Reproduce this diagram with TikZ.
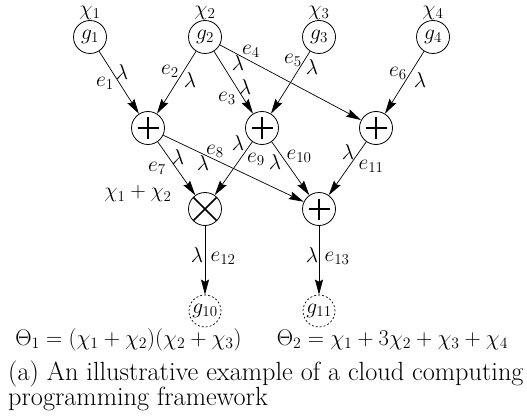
\RequirePackage{fix-cm}
\documentclass[tikz,border=0pt]{standalone}
\usetikzlibrary{arrows.meta}
\begin{document}
\begin{tikzpicture}[x=1pt,y=-1pt,
  font=\fontsize{21.5}{25}\selectfont,
  gate/.style={circle, draw, line width=0.8pt, minimum size=33pt, inner sep=0pt},
  sink/.style={circle, draw, line width=0.7pt, dash pattern=on 2pt off 2pt,
    minimum size=32pt, inner sep=0pt},
  addop/.style={gate, path picture={
    \draw[line width=1.7pt]
      ([xshift=-10.5pt]path picture bounding box.center) --
      ([xshift=10.5pt]path picture bounding box.center)
      ([yshift=-10.5pt]path picture bounding box.center) --
      ([yshift=10.5pt]path picture bounding box.center);}},
  mulop/.style={gate, path picture={
    \draw[line width=1.7pt]
      (path picture bounding box.south west) -- (path picture bounding box.north east)
      (path picture bounding box.north west) -- (path picture bounding box.south east);}},
  conn/.style={-{Stealth[length=15pt,width=8pt,inset=2pt]}, line width=0.7pt},
  lab/.style={inner sep=0pt},
  result/.style={inner sep=0pt, anchor=base, font=\fontsize{22.6}{26}\selectfont},
  captext/.style={font=\fontsize{26.3}{30}\selectfont, inner sep=0pt, anchor=base west}]
\useasboundingbox (0,0) rectangle (527,417);

% inputs
\node[gate] (g1) at (90,37) {$g_1$};
\node[gate] (g2) at (205,37) {$g_2$};
\node[gate] (g3) at (319,37) {$g_3$};
\node[gate] (g4) at (433,37) {$g_4$};
\node[lab] (x1) at (90,13) {$\chi_1$};
\node[lab] (x2) at (205,13) {$\chi_2$};
\node[lab] (x3) at (319,13) {$\chi_3$};
\node[lab] (x4) at (433,13) {$\chi_4$};

% operators
\node[addop] (p1) at (148,128) {};
\node[addop] (p2) at (262,128) {};
\node[addop] (p3) at (376,128) {};
\node[mulop] (m1) at (205,209) {};
\node[addop] (p4) at (319,209) {};
\node[lab] (s12) at (138,194) {$\chi_1+\chi_2$};

% outputs
\node[sink] (g10) at (205,311) {$g_{10}$};
\node[sink] (g11) at (319,311) {$g_{11}$};

% connectors
\draw[conn] (g1) -- (p1);
\draw[conn] (g2) -- (p1);
\draw[conn] (g2) -- (p2);
\draw[conn] (g2) -- (p3);
\draw[conn] (g3) -- (p2);
\draw[conn] (g4) -- (p3);
\draw[conn] (p1) -- (m1);
\draw[conn] (p1) -- (p4);
\draw[conn] (p2) -- (m1);
\draw[conn] (p2) -- (p4);
\draw[conn] (p3) -- (p4);
\draw[conn] (m1) -- (g10);
\draw[conn] (p4) -- (g11);

% edge names and weights
\node[lab] (l1) at (105,83) {$e_1$};   \node[lab] (k1) at (122,72) {$\lambda$};
\node[lab] (l2) at (170,71) {$e_2$};   \node[lab] (k2) at (190,80) {$\lambda$};
\node[lab] (l3) at (227,98) {$e_3$};   \node[lab] (k3) at (245,87) {$\lambda$};
\node[lab] (l4) at (251,51) {$e_4$};   \node[lab] (k4) at (238,63) {$\lambda$};
\node[lab] (l5) at (293,60) {$e_5$};   \node[lab] (k5) at (312,67) {$\lambda$};
\node[lab] (l6) at (398,73) {$e_6$};   \node[lab] (k6) at (420,80) {$\lambda$};
\node[lab] (l7) at (157,168) {$e_7$};  \node[lab] (k7) at (178,157) {$\lambda$};
\node[lab] (l8) at (215,151) {$e_8$};  \node[lab] (k8) at (203,163) {$\lambda$};
\node[lab] (l9) at (256,159) {$e_9$};  \node[lab] (k9) at (238,143) {$\lambda$};
\node[lab] (l10) at (299,156) {$e_{10}$}; \node[lab] (k10) at (275,162) {$\lambda$};
\node[lab] (l11) at (371,166) {$e_{11}$}; \node[lab] (k11) at (348,152) {$\lambda$};
\node[lab] (l12) at (223,258) {$e_{12}$}; \node[lab] (k12) at (197,255) {$\lambda$};
\node[lab] (l13) at (337,258) {$e_{13}$}; \node[lab] (k13) at (312,255) {$\lambda$};

% results
\node[result] (t1) at (128.5,345) {$\Theta_1=(\chi_1+\chi_2)(\chi_2+\chi_3)$};
\node[result] (t2) at (392.5,345) {$\Theta_2=\chi_1+3\chi_2+\chi_3+\chi_4$};

% caption
\node[captext] (c1) at (8,380) {(a) An illustrative example of a cloud computing};
\node[captext] (c2) at (8,405) {programming framework};
\end{tikzpicture}
\end{document}
